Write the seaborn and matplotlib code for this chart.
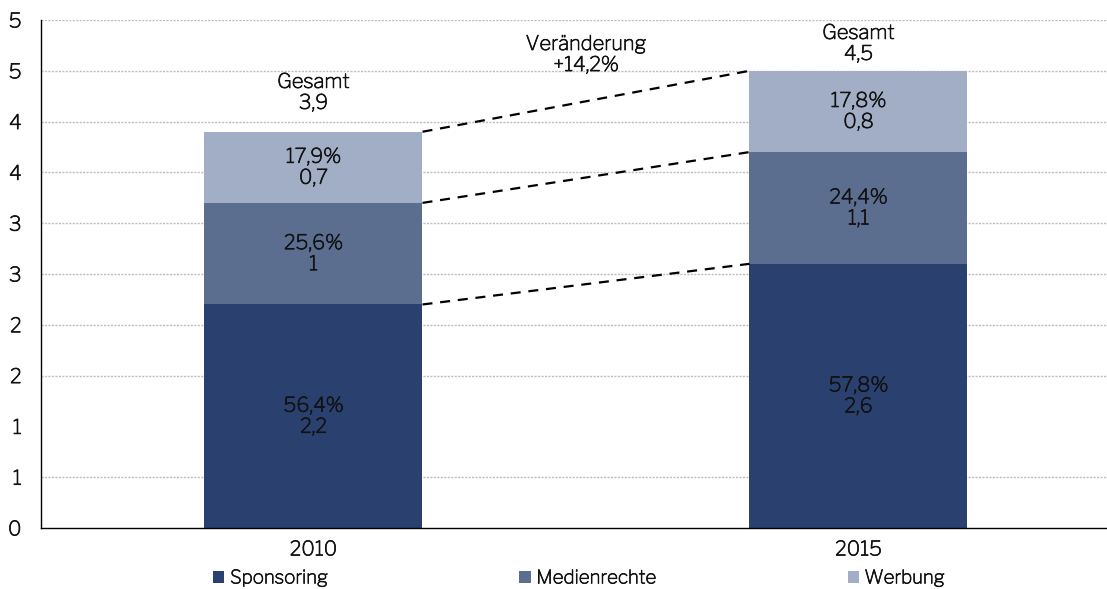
import matplotlib
matplotlib.use("Agg")
import matplotlib.pyplot as plt
import matplotlib.patheffects as pe
import seaborn as sns
import pandas as pd
import numpy as np
from matplotlib.patches import Patch

# ---- data ----
years = ["2010", "2015"]
series = ["Sponsoring", "Medienrechte", "Werbung"]
sponsoring = [2.2, 2.6]
medienrechte = [1.0, 1.1]
werbung = [0.7, 0.8]
value_labels = [["2,2", "1", "0,7"], ["2,6", "1,1", "0,8"]]
pct_labels = [["56,4%", "25,6%", "17,9%"], ["57,8%", "24,4%", "17,8%"]]
totals_labels = ["3,9", "4,5"]
change_label = "+14,2%"
yticks = [0, 0.5, 1, 1.5, 2, 2.5, 3, 3.5, 4, 4.5, 5]
ytick_labels = ["0", "1", "1", "2", "2", "3", "3", "4", "4", "5", "5"]

# ---- layout constants ----
total_label_y = [4.287, 4.769]
change_label_y = 4.66

colors = {"Sponsoring": "#2A4170", "Medienrechte": "#5B6E8F", "Werbung": "#A2AEC5"}
TXT = "#111111"

sns.set_style("white")
plt.rcParams['font.family'] = ['Libre Franklin', 'DejaVu Sans']
FS = 14.5
LS = 1.2
thick = [pe.withStroke(linewidth=0.5, foreground=TXT)]

fig = plt.figure(figsize=(11.07, 5.89), dpi=100)
ax = fig.add_axes([41/1107, 1-528/589, 1078/1107, 508/589])

df = pd.DataFrame({"Jahr": years, "Sponsoring": sponsoring,
                   "Medienrechte": medienrechte, "Werbung": werbung})
cum1 = df["Sponsoring"].to_numpy()
cum2 = cum1 + df["Medienrechte"].to_numpy()
cum3 = cum2 + df["Werbung"].to_numpy()
layers = [("Werbung", cum3), ("Medienrechte", cum2), ("Sponsoring", cum1)]

# gridlines (dotted); the 1.0 line is absent in the reference
for yv in yticks[1:]:
    if abs(yv - 1.0) < 1e-9:
        continue
    ax.axhline(yv, color="#BDBDBD", lw=1.0, ls=(0, (1.5, 1.0)), zorder=0)

for name, vals in layers:
    d = pd.DataFrame({"Jahr": years, "v": vals})
    sns.barplot(data=d, x="Jahr", y="v", color=colors[name], width=0.4,
                saturation=1, ax=ax, zorder=2, edgecolor="none")

# dashed connectors
bw = 0.4
for c in (cum1, cum2, cum3):
    ax.plot([0 + bw/2, 1 - bw/2], [c[0], c[1]], color="black", lw=1.6,
            ls=(0, (4.5, 3.5)), zorder=3)

# segment labels
bottoms = [np.zeros(2), cum1, cum2]
tops = [cum1, cum2, cum3]
for i in range(2):
    for j in range(3):
        mid = (bottoms[j][i] + tops[j][i]) / 2
        ax.text(i, mid, f"{pct_labels[i][j]}\n{value_labels[i][j]}", ha="center",
                va="center", fontsize=FS, color=TXT, linespacing=LS, zorder=4,
                path_effects=thick)

# totals
for i in range(2):
    ax.text(i, total_label_y[i], f"Gesamt\n{totals_labels[i]}", ha="center", va="center",
            fontsize=FS, color=TXT, linespacing=LS, path_effects=thick)
ax.text(0.5, change_label_y, f"Veränderung\n{change_label}", ha="center", va="center",
        fontsize=FS, color=TXT, linespacing=LS, path_effects=thick)

ax.set_xlim(-0.5, 1.478)
ax.set_ylim(0, 5)
ax.set_yticks(yticks)
ax.set_yticklabels(ytick_labels)
ax.set_xlabel("")
ax.set_ylabel("")
ax.tick_params(axis="y", length=0, pad=14, labelsize=FS, labelcolor=TXT)
ax.tick_params(axis="x", length=0, pad=9, labelsize=FS, labelcolor=TXT)
for lab in ax.get_xticklabels() + ax.get_yticklabels():
    lab.set_path_effects(thick)
for s in ["top", "right"]:
    ax.spines[s].set_visible(False)
ax.spines["left"].set_color("black")
ax.spines["bottom"].set_color("black")
ax.spines["left"].set_linewidth(1.0)
ax.spines["bottom"].set_linewidth(1.0)

handles = [Patch(facecolor=colors[s], edgecolor="none", label=s) for s in series]
leg = fig.legend(handles=handles, loc="center", bbox_to_anchor=(0.523, 1-578/589), ncol=3,
                 frameon=False, fontsize=13.5, handlelength=0.6, handleheight=0.6,
                 handletextpad=0.3, columnspacing=10.2)
for t in leg.get_texts():
    t.set_color(TXT)
    t.set_path_effects(thick)

fig.savefig("out.png", dpi=100)
